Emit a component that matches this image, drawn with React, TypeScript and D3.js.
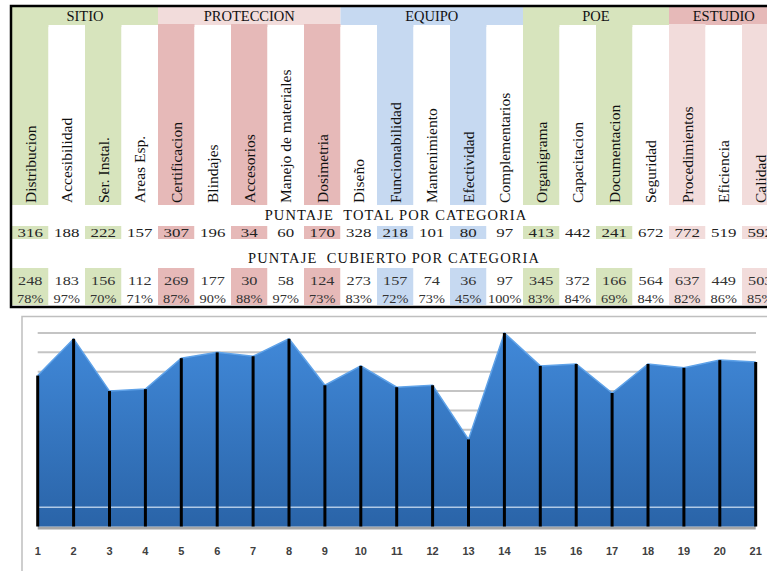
import React from 'react';
import * as d3 from 'd3';

// column labels of the table (one per category)
const categories = [
  'Distribucion', 'Accesibilidad', 'Ser. Instal.', 'Areas Esp.',
  'Certificacion', 'Blindajes', 'Accesorios', 'Manejo de materiales', 'Dosimetria',
  'Diseño', 'Funcionabilidad', 'Mantenimiento', 'Efectividad', 'Complementarios',
  'Organigrama', 'Capacitacion', 'Documentacion', 'Seguridad',
  'Procedimientos', 'Eficiencia', 'Calidad'
];

const groupNames = ['SITIO', 'PROTECCION', 'EQUIPO', 'POE', 'ESTUDIO'];
const groupStarts = [0, 4, 9, 14, 18];
const groupEnds = [3, 8, 13, 17, 20];

const totalScores = [316, 188, 222, 157, 307, 196, 34, 60, 170, 328, 218, 101, 80, 97, 413, 442, 241, 672, 772, 519, 592];
const coveredScores = [248, 183, 156, 112, 269, 177, 30, 58, 124, 273, 157, 74, 36, 97, 345, 372, 166, 564, 637, 449, 503];
const coveredPct = [78, 97, 70, 71, 87, 90, 88, 97, 73, 83, 72, 73, 45, 100, 83, 84, 69, 84, 82, 86, 85];

const xTicks = d3.range(1, 22);
const gridValues = [10, 20, 30, 40, 50, 60, 70, 80, 90, 100];

// colours
const headerColors = ['#D7E4BD', '#F2DCDB', '#C6D9F1', '#D7E4BD', '#E6B9B8'];
const columnColors = ['#D7E4BD', '#E6B9B8', '#C6D9F1', '#D7E4BD', '#F2DCDB'];

const W = 767;
const H = 571;
const serif = '"Liberation Serif", "Times New Roman", serif';

const groupOf = (i: number) => groupStarts.filter(s => s <= i).length - 1;
const cellFill = (i: number) => (i % 2 === 0 ? columnColors[groupOf(i)] : '#FFFFFF');

const App: React.FC = () => {
  // table columns
  const col = d3.scaleBand<number>()
    .domain(d3.range(categories.length))
    .range([12, 12 + 21 * 36.5]);

  // chart scales
  const x = d3.scalePoint<number>().domain(xTicks).range([37.7, 755.7]);
  const y = d3.scaleLinear().domain([0, 100]).range([526.5, 333]);

  const area = d3.area<number>()
    .x((_, i) => x(xTicks[i]) as number)
    .y0(y(0))
    .y1(d => y(d));
  const topLine = d3.line<number>()
    .x((_, i) => x(xTicks[i]) as number)
    .y(d => y(d));

  const stretched = (tx: number, ty: number, s: number) => `translate(${tx},${ty}) scale(${s},1)`;

  return (
    <svg width={W} height={H} style={{ position: 'absolute', left: 0, top: 0, background: '#fff' }}>
      <defs>
        <linearGradient id="areaGrad" gradientUnits="userSpaceOnUse" x1="0" y1={y(100)} x2="0" y2={y(0)}>
          <stop offset="0%" stopColor="#4189D9" />
          <stop offset="100%" stopColor="#2A64A8" />
        </linearGradient>
      </defs>

      {/* ---------- table ---------- */}
      {groupNames.map((g, k) => {
        const x0 = col(groupStarts[k]) as number;
        const x1 = (col(groupEnds[k]) as number) + col.bandwidth();
        return (
          <g key={g}>
            <rect x={x0} y={7} width={x1 - x0} height={18} fill={headerColors[k]} />
            <text x={(x0 + x1) / 2} y={21} textAnchor="middle" fontFamily={serif} fontSize={14.5} fill="#111">{g}</text>
          </g>
        );
      })}

      {categories.map((c, i) => {
        const x0 = col(i) as number;
        const cx = x0 + col.bandwidth() / 2;
        const fill = cellFill(i);
        return (
          <g key={c}>
            <rect x={x0} y={i % 2 === 0 ? 24 : 27} width={col.bandwidth()} height={i % 2 === 0 ? 181 : 178} fill={fill} />
            <text transform={`translate(${cx + 5.5},203) rotate(-90)`} fontFamily={serif} fontSize={15.5} fill="#111">{c}</text>

            <rect x={x0} y={226} width={col.bandwidth()} height={13} fill={fill} />
            <text transform={stretched(cx, 236.5, 1.3)} textAnchor="middle" fontFamily={serif} fontSize={13} fill="#222">{totalScores[i]}</text>

            <rect x={x0} y={268} width={col.bandwidth()} height={37} fill={fill} />
            <text transform={stretched(cx, 285, 1.3)} textAnchor="middle" fontFamily={serif} fontSize={12.5} fill="#333">{coveredScores[i]}</text>
            <text transform={stretched(cx, 302.5, 1.25)} textAnchor="middle" fontFamily={serif} fontSize={11.5} fill="#333">{coveredPct[i]}%</text>
          </g>
        );
      })}

      <text x={396} y={220} textAnchor="middle" fontFamily={serif} fontSize={14.5} letterSpacing={1.1} fill="#111" style={{ whiteSpace: 'pre' }}>PUNTAJE  TOTAL POR CATEGORIA</text>
      <text x={394} y={263} textAnchor="middle" fontFamily={serif} fontSize={14.5} letterSpacing={1.1} fill="#111" style={{ whiteSpace: 'pre' }}>PUNTAJE  CUBIERTO POR CATEGORIA</text>

      {/* outer border */}
      <rect x={11} y={6} width={W + 20} height={301} fill="none" stroke="#000" strokeWidth={2.5} />

      {/* ---------- chart ---------- */}
      <rect x={22} y={316.5} width={W} height={H} fill="none" stroke="#BFBFBF" strokeWidth={1.5} />

      {gridValues.map(v => (
        <line key={v} x1={37.7} x2={756} y1={y(v)} y2={y(v)} stroke="#C4C4C4" strokeWidth={2} />
      ))}

      {/* floor shadow */}
      <rect x={37.7} y={y(0)} width={718} height={3} fill="#A6A6A6" />

      <path d={area(coveredPct) ?? ''} fill="url(#areaGrad)" />
      <path d={topLine(coveredPct) ?? ''} fill="none" stroke="#5FA2E8" strokeWidth={1.5} />
      <line x1={37.7} x2={755.7} y1={y(10)} y2={y(10)} stroke="#C9DCF0" strokeWidth={1.5} opacity={0.85} />

      {coveredPct.map((v, i) => (
        <line key={i} x1={x(xTicks[i])} x2={x(xTicks[i])} y1={y(v)} y2={y(0)} stroke="#000" strokeWidth={3} />
      ))}

      {xTicks.map(t => (
        <text key={t} x={x(t)} y={555} textAnchor="middle" fontFamily='"Liberation Sans", Arial, sans-serif' fontWeight="bold" fontSize={11} fill="#404040">{t}</text>
      ))}
    </svg>
  );
};

export default App;
